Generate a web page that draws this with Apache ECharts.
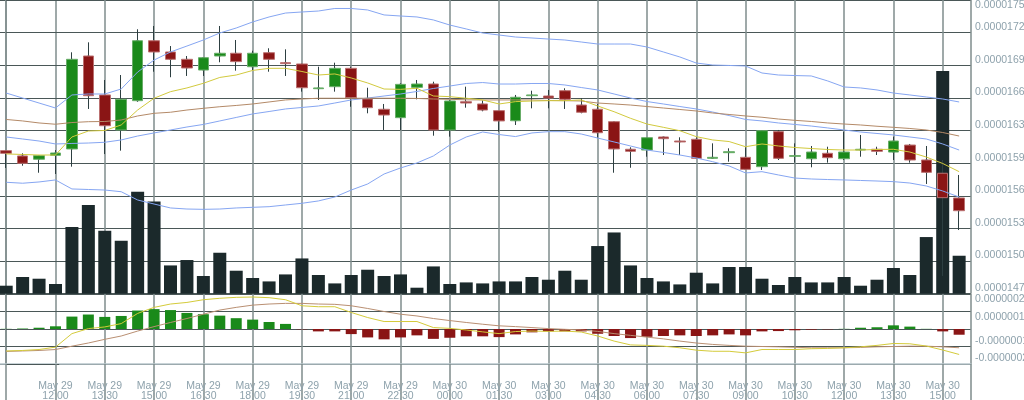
<!DOCTYPE html>
<html><head><meta charset="utf-8">
<script src="https://cdn.jsdelivr.net/npm/echarts@6/dist/echarts.min.js"></script>
<style>html,body{margin:0;padding:0;background:#fff}#c{width:1024px;height:400px}</style>
</head><body><div id="c"></div>
<script>
// time of each 30-minute candle
const times = [
 'May 29 10:30','May 29 11:00','May 29 11:30','May 29 12:00','May 29 12:30','May 29 13:00','May 29 13:30','May 29 14:00',
 'May 29 14:30','May 29 15:00','May 29 15:30','May 29 16:00','May 29 16:30','May 29 17:00','May 29 17:30','May 29 18:00',
 'May 29 18:30','May 29 19:00','May 29 19:30','May 29 20:00','May 29 20:30','May 29 21:00','May 29 21:30','May 29 22:00',
 'May 29 22:30','May 29 23:00','May 29 23:30','May 30 00:00','May 30 00:30','May 30 01:00','May 30 01:30','May 30 02:00',
 'May 30 02:30','May 30 03:00','May 30 03:30','May 30 04:00','May 30 04:30','May 30 05:00','May 30 05:30','May 30 06:00',
 'May 30 06:30','May 30 07:00','May 30 07:30','May 30 08:00','May 30 08:30','May 30 09:00','May 30 09:30','May 30 10:00',
 'May 30 10:30','May 30 11:00','May 30 11:30','May 30 12:00','May 30 12:30','May 30 13:00','May 30 13:30','May 30 14:00',
 'May 30 14:30','May 30 15:00','May 30 15:30'
];
// prices in satoshi (1e-8): [open, close, low, high]
const candles = [
 [1611.1,1608.6,1594.8,1611.7],[1606.1,1599.2,1596.9,1608.6],[1603.0,1606.4,1590.3,1606.9],[1606.7,1608.9,1589.1,1611.7],
 [1612.7,1697.2,1596.0,1703.8],[1700.3,1662.9,1650.4,1713.2],[1663.6,1634.6,1607.9,1677.7],[1630.6,1659.5,1611.1,1682.4],
 [1658.2,1714.7,1657.2,1725.5],[1714.7,1704.1,1685.5,1728.6],[1704.1,1697.2,1680.3,1709.7],[1697.2,1689.0,1681.5,1700.3],
 [1687.1,1698.7,1681.5,1698.9],[1700.3,1702.9,1694.4,1728.6],[1702.9,1695.0,1686.5,1715.4],[1690.2,1702.9,1687.1,1705.3],
 [1703.4,1697.2,1685.5,1707.6],[1694.0,1693.1,1681.5,1706.6],[1692.8,1670.4,1666.7,1693.0],[1669.5,1670.2,1658.9,1690.2],
 [1671.4,1688.7,1666.7,1694.0],[1688.7,1661.0,1652.5,1690.2],[1659.8,1651.6,1646.3,1670.4],[1650.1,1644.7,1630.6,1655.1],
 [1642.2,1673.6,1630.6,1674.6],[1670.8,1673.9,1659.5,1677.7],[1673.9,1630.6,1625.2,1676.1],[1630.6,1657.9,1624.3,1658.9],
 [1657.2,1656.0,1651.6,1671.4],[1655.1,1649.4,1648.2,1658.4],[1648.8,1639.1,1629.0,1649.0],[1639.3,1661.4,1635.3,1663.6],
 [1662.9,1663.6,1651.0,1667.6],[1662.6,1660.7,1651.0,1668.3],[1667.6,1659.5,1650.4,1669.9],[1654.1,1647.3,1646.3,1660.5],
 [1650.1,1628.0,1623.3,1655.1],[1638.4,1612.7,1590.3,1638.6],[1612.4,1610.5,1595.0,1614.3],[1611.7,1623.3,1605.4,1623.5],
 [1624.0,1622.4,1607.0,1624.2],[1620.2,1619.3,1607.0,1623.7],[1621.8,1603.9,1603.2,1623.7],[1603.9,1604.8,1603.7,1618.0],
 [1609.2,1610.1,1600.7,1613.3],[1604.8,1593.5,1593.3,1614.3],[1596.0,1629.9,1592.9,1630.1],[1629.0,1603.9,1602.3,1630.6],
 [1605.8,1606.4,1599.8,1618.0],[1603.5,1609.8,1595.4,1615.5],[1608.6,1604.5,1599.8,1614.8],[1603.5,1609.8,1602.3,1629.0],
 [1611.7,1612.4,1605.4,1625.9],[1612.4,1610.5,1607.0,1614.8],[1609.8,1620.2,1602.3,1624.3],[1616.4,1602.3,1599.8,1617.4],
 [1602.3,1590.7,1579.7,1615.5],[1589.8,1566.8,1493.0,1602.3],[1566.5,1554.5,1536.3,1588.2]
];
const volume = [8,16.7,15,9.7,66.7,88.7,63,53,102,92.3,28.3,33.7,17.7,41,23,15.7,12.3,19.3,35.3,18.7,10.3,18.7,24,17.7,19.3,6,27.3,9.7,11.3,10.3,
 12.3,12.3,16.7,14,23,14,47.7,61.3,28.3,15.7,12.3,9.3,21,10.3,26.7,26.7,15,8.7,16.7,11.3,11.3,16.7,8,14,25.7,18.7,56.7,223,38];
const bbUpper = [1665.4,1660.7,1656.0,1651.3,1663.6,1664.5,1664.5,1669.2,1685.2,1696.5,1704.1,1709.7,1715.4,1722.0,1726.7,1732.4,1737.1,1740.8,1741.8,1742.7,
 1745.1,1745.1,1743.7,1739.0,1738.0,1737.1,1734.3,1729.5,1725.8,1722.0,1720.1,1718.2,1717.3,1716.3,1715.4,1713.5,1711.6,1711.6,1711.6,1708.8,
 1704.1,1699.4,1693.7,1691.8,1691.4,1690.9,1684.3,1682.4,1681.9,1681.5,1676.8,1671.1,1670.2,1668.3,1665.4,1663.6,1661.7,1659.8,1657.0];
const bbMiddle = [1624.0,1622.1,1620.2,1617.4,1617.9,1618.3,1619.0,1621.2,1624.9,1627.8,1630.6,1633.4,1635.8,1639.1,1642.4,1645.7,1648.0,1650.4,1651.8,1653.2,
 1656.0,1658.9,1660.7,1662.6,1664.5,1666.9,1669.7,1672.0,1674.4,1675.3,1673.9,1673.9,1674.4,1674.4,1673.0,1670.6,1668.3,1664.5,1660.7,1657.4,
 1655.1,1652.7,1650.4,1647.5,1644.2,1640.5,1639.1,1637.2,1635.8,1634.3,1632.5,1630.6,1628.7,1627.3,1625.9,1624.0,1622.1,1617.4,1611.7];
const bbLower = [1581.3,1580.4,1581.6,1583.5,1575.0,1574.5,1574.0,1572.4,1564.6,1560.8,1557.1,1556.1,1555.8,1556.1,1557.1,1557.7,1558.3,1559.9,1561.5,1563.7,
 1567.4,1574.0,1579.7,1589.1,1594.8,1599.5,1606.1,1616.4,1624.0,1628.7,1626.3,1624.4,1627.8,1629.0,1629.0,1626.8,1623.0,1619.3,1615.5,1611.7,
 1609.4,1607.0,1604.2,1600.7,1596.7,1590.1,1591.3,1588.2,1585.3,1584.4,1583.9,1583.5,1583.0,1582.5,1581.9,1580.6,1577.8,1573.1,1567.4];
const maFast = [1608.0,1607.5,1607.0,1607.0,1624.0,1629.6,1630.1,1635.3,1649.4,1660.5,1666.7,1670.2,1674.6,1680.1,1682.4,1686.7,1688.7,1688.7,1685.7,1682.4,
 1683.4,1679.6,1674.9,1669.2,1668.9,1669.9,1662.6,1662.0,1660.5,1658.9,1655.1,1657.3,1657.9,1658.2,1658.2,1658.9,1653.2,1647.8,1641.6,1636.2,
 1633.1,1629.9,1624.3,1621.2,1619.7,1614.8,1617.4,1615.5,1614.1,1613.1,1612.2,1611.7,1611.7,1612.2,1612.4,1609.8,1605.1,1599.0,1591.3];
const maSlow = [1640.5,1639.1,1637.2,1636.0,1637.6,1638.4,1638.6,1640.0,1643.8,1646.3,1647.3,1649.4,1651.0,1652.5,1653.7,1655.1,1657.0,1658.9,1659.8,1660.5,
 1660.5,1660.5,1660.5,1660.5,1660.5,1660.3,1659.8,1659.5,1659.0,1658.9,1658.9,1658.9,1658.9,1658.4,1658.2,1657.9,1656.0,1655.1,1654.1,1652.7,
 1651.3,1649.9,1648.5,1646.6,1645.2,1643.8,1642.6,1640.9,1639.7,1638.6,1637.2,1636.2,1635.3,1634.1,1633.1,1632.0,1630.6,1628.2,1624.9];
// MACD values in 1e-8
const macdLine = [-13.8,-13.5,-12.9,-11.4,-2.9,0.25,1.3,3.4,9.8,13.6,15.7,16.7,18.4,19.3,19.9,20.1,19.7,18.4,14.6,14.0,
 14.0,10.4,7.2,4.7,4.7,4.7,0.9,0.4,-0.6,-1.8,-2.9,-1.6,-1.3,-1.5,-1.3,-1.9,-4.4,-7.6,-10.0,-10.3,
 -10.8,-11.8,-13.3,-14.0,-14.0,-15.0,-12.9,-12.9,-12.9,-12.4,-12.2,-11.8,-11.2,-10.3,-9.1,-9.3,-10.7,-13.2,-16.0];
const signalLine = [-14.1,-13.8,-13.5,-12.9,-10.8,-8.8,-6.5,-4.4,-1.3,1.5,4.1,6.6,9.3,11.9,13.6,15.0,15.7,16.1,16.1,15.7,
 15.5,14.6,12.9,11.0,9.3,8.2,6.6,5.3,4.1,3.0,2.0,1.5,0.9,0.25,-0.2,-0.6,-1.5,-2.9,-4.0,-5.1,
 -6.2,-7.6,-8.8,-9.7,-10.3,-10.8,-11.0,-11.2,-11.5,-11.8,-11.8,-11.8,-11.6,-11.2,-11.0,-10.8,-10.8,-11.2,-11.8];
const macdHist = [0.1,0.3,0.8,1.7,7.8,9.1,7.6,8.2,11.6,12.5,11.9,10.1,9.3,8.4,6.8,5.9,4.4,3.2,-0.2,-1.5,
 -1.5,-3.2,-5.3,-6.5,-5.3,-4.0,-6.2,-5.5,-4.6,-4.6,-5.1,-3.4,-2.1,-1.5,-1.5,-1.5,-3.0,-4.4,-5.7,-4.9,
 -4.4,-4.0,-4.4,-4.0,-3.4,-4.0,-1.5,-1.3,-0.8,-0.4,-0.2,0.1,0.8,1.1,2.3,1.5,0.1,-1.5,-3.6];
const PRICE_STEP = 30.756;   // price tick step (1e-8)
const MACD_STEP = 11;        // macd tick step (1e-8)

const LABEL = '#8ea2ac', HGRID = '#4a5757', VGRID = '#7f8c8c';
const FONT = 'Liberation Sans, Arial, sans-serif';
const FS = 10.5;
const pair = arr => arr.map((v, i) => [i, v]);
const fmt = v => (v * 1e-8).toFixed(8);
const xLabel = v => {
  const i = Math.round(v);
  if (Math.abs(v - i) > 1e-6 || i < 1 || i >= times.length) return '';
  const t = times[i]; const k = t.lastIndexOf(' ');
  return t.slice(0, k) + '\n' + t.slice(k + 1);
};
const xBase = {type: 'value', min: -3, max: 58.72, interval: 3,
  axisLine: {show: false, onZero: false}, axisTick: {show: false}, axisLabel: {show: false},
  splitLine: {show: true, lineStyle: {color: VGRID, width: 1.5}}};
const lineS = (data, color, xi, yi) => ({type: 'line', xAxisIndex: xi, yAxisIndex: yi, data: pair(data), symbol: 'none',
  lineStyle: {color: color, width: 1}, silent: true, z: 5});

const chart = echarts.init(document.getElementById('c'), null, {renderer: 'canvas'});
chart.setOption({
  animation: false,
  backgroundColor: '#ffffff',
  textStyle: {fontFamily: FONT},
  grid: [
    {left: -43.09, right: 53.03, top: 0, height: 293.7, containLabel: false, outerBoundsMode: 'none'},
    {left: -43.09, right: 53.03, top: 294, height: 70, containLabel: false, outerBoundsMode: 'none'}
  ],
  xAxis: [
    Object.assign({}, xBase, {gridIndex: 0}),
    Object.assign({}, xBase, {gridIndex: 1,
      axisLine: {show: true, onZero: false, lineStyle: {color: '#b8c6cb', width: 1.5}},
      axisTick: {show: true, length: 36, lineStyle: {color: VGRID, width: 1.5}},
      axisLabel: {show: true, margin: 17.5, fontSize: FS, lineHeight: 9.5, color: LABEL, fontFamily: FONT, formatter: xLabel}})
  ],
  yAxis: [
    {gridIndex: 0, type: 'value', position: 'right', scale: true,
     min: +(48 * PRICE_STEP).toFixed(3), max: +(57 * PRICE_STEP).toFixed(3), interval: PRICE_STEP,
     axisLine: {show: true, lineStyle: {color: VGRID, width: 1.5}},
     axisTick: {show: true, inside: false, length: 53, lineStyle: {color: HGRID, width: 1}},
     splitLine: {show: true, lineStyle: {color: HGRID, width: 1}},
     axisLabel: {margin: 4, fontSize: FS, color: LABEL, fontFamily: FONT, verticalAlign: 'bottom', verticalAlignMaxLabel: 'top', formatter: fmt}},
    {gridIndex: 0, type: 'value', min: 0, max: 294, show: false},
    {gridIndex: 1, type: 'value', position: 'right', min: -2 * MACD_STEP, max: 2 * MACD_STEP, interval: MACD_STEP,
     axisLine: {show: true, lineStyle: {color: VGRID, width: 1.5}},
     axisTick: {show: true, inside: false, length: 53, lineStyle: {color: HGRID, width: 1}},
     splitLine: {show: true, lineStyle: {color: HGRID, width: 1}},
     axisLabel: {margin: 4, fontSize: FS, color: LABEL, fontFamily: FONT, verticalAlign: 'top', formatter: v => v > 0 ? fmt(v) : ''}},
    {gridIndex: 1, type: 'value', position: 'right', min: -2 * MACD_STEP, max: 2 * MACD_STEP, interval: MACD_STEP,
     axisLine: {show: false}, axisTick: {show: false}, splitLine: {show: false},
     axisLabel: {margin: 4, fontSize: FS, color: LABEL, fontFamily: FONT, verticalAlign: 'bottom', formatter: v => v < 0 ? fmt(v) : ''}}
  ],
  series: [
    {type: 'bar', xAxisIndex: 0, yAxisIndex: 1, data: pair(volume), barWidth: 13, silent: true,
     itemStyle: {color: '#1b292b'}, z: 1},
    {type: 'candlestick', xAxisIndex: 0, yAxisIndex: 0, barWidth: 2, silent: true, z: 2,
     data: candles.map((c, i) => [i, c[0], c[1], c[2], c[3]]), encode: {x: 0, y: [1, 2, 3, 4]},
     itemStyle: {color: '#2d3f41', color0: '#2d3f41', borderColor: '#2d3f41', borderColor0: '#2d3f41', borderWidth: 1}},
    {type: 'candlestick', xAxisIndex: 0, yAxisIndex: 0, barWidth: 11, silent: true, z: 3,
     data: candles.map((c, i) => [i, c[0], c[1], Math.min(c[0], c[1]), Math.max(c[0], c[1])]), encode: {x: 0, y: [1, 2, 3, 4]},
     itemStyle: {color: '#1a8a1a', color0: '#8a1515', borderColor: '#68ad68', borderColor0: '#bb7070', borderWidth: 1}},
    lineS(bbUpper, '#86a6f2', 0, 0),
    lineS(bbMiddle, '#86a6f2', 0, 0),
    lineS(bbLower, '#86a6f2', 0, 0),
    lineS(maSlow, '#b48a68', 0, 0),
    lineS(maFast, '#d2ca3e', 0, 0),
    {type: 'bar', xAxisIndex: 1, yAxisIndex: 2, data: pair(macdHist), barWidth: 11, silent: true, z: 2,
     itemStyle: {color: p => p.value[1] >= 0 ? '#1a8a1a' : '#8a1515'}},
    lineS(signalLine, '#b98f72', 1, 2),
    lineS(macdLine, '#d4cb3a', 1, 2)
  ]
});
</script></body></html>
